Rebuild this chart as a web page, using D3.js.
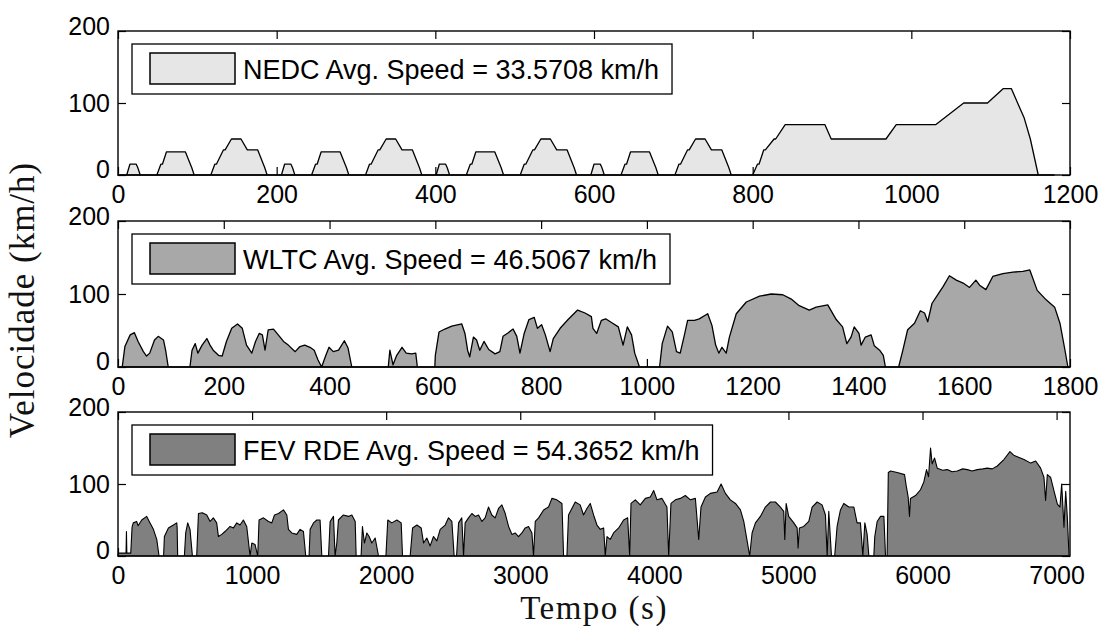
<!DOCTYPE html>
<html><head><meta charset="utf-8">
<script src="https://cdn.jsdelivr.net/npm/d3@7"></script>
<style>body{margin:0;background:#fff}svg{display:block}</style>
</head><body>
<svg id="c" width="1102" height="628"></svg>
<script>
// ---------- DATA ----------
const cycleNames = ["NEDC", "WLTC", "FEV RDE"];
const avgSpeeds = ["33.5708", "46.5067", "54.3652"];
const xMax = [1200, 1800, 7100];
const xTicks = [
  [0, 200, 400, 600, 800, 1000, 1200],
  [0, 200, 400, 600, 800, 1000, 1200, 1400, 1600, 1800],
  [0, 1000, 2000, 3000, 4000, 5000, 6000, 7000]
];
const yTicks = [0, 100, 200];

// [time s, speed km/h]
const nedc = [
  [0,0],[11,0],[15,15],[23,15],[25,10],[28,0],[49,0],[54,15],[56,15],[61,32],[85,32],[93,10],[96,0],
  [117,0],[122,15],[124,15],[133,35],[135,35],[143,50],[155,50],[163,35],[176,35],[185,10],[188,0],[195,0],
  [206,0],[210,15],[218,15],[220,10],[223,0],[244,0],[249,15],[251,15],[256,32],[280,32],[288,10],[291,0],
  [312,0],[317,15],[319,15],[328,35],[330,35],[338,50],[350,50],[358,35],[371,35],[380,10],[383,0],[390,0],
  [401,0],[405,15],[413,15],[415,10],[418,0],[439,0],[444,15],[446,15],[451,32],[475,32],[483,10],[486,0],
  [507,0],[512,15],[514,15],[523,35],[525,35],[533,50],[545,50],[553,35],[566,35],[575,10],[578,0],[585,0],
  [596,0],[600,15],[608,15],[610,10],[613,0],[634,0],[639,15],[641,15],[646,32],[670,32],[678,10],[681,0],
  [702,0],[707,15],[709,15],[718,35],[720,35],[728,50],[740,50],[748,35],[761,35],[770,10],[773,0],[780,0],
  [800,0],[806,15],[808,15],[814,35],[816,35],[827,50],[829,50],[841,70],[891,70],[899,50],[968,50],
  [981,70],[1031,70],[1066,100],[1096,100],[1116,120],[1126,120],[1142,80],[1150,50],[1160,0],[1180,0]
];

const wltc = [
  [0,0],[8,0],[13,28],[23,44],[31,47],[38,35],[48,21],[54,15],[60,19],[69,37],[76,42],[86,37],[90,23],[95,0],
  [136,0],[140,23],[146,32],[151,19],[159,30],[168,39],[174,30],[180,23],[190,16],[197,15],[205,35],[215,53],
  [226,59],[235,53],[243,30],[253,19],[260,35],[267,46],[273,44],[278,23],[284,51],[294,52],[303,44],[313,35],
  [322,30],[335,21],[344,28],[353,30],[363,27],[371,23],[378,10],[385,0],[393,16],[399,27],[407,21],[417,23],
  [428,36],[435,26],[442,0],[511,0],[514,23],[520,3],[527,16],[537,27],[545,19],[555,18],[563,19],[566,0],
  [599,0],[600,16],[607,48],[618,52],[631,56],[650,59],[656,46],[661,23],[665,14],[672,41],[678,37],[684,23],
  [692,35],[701,24],[713,18],[722,21],[728,42],[738,47],[747,52],[754,42],[760,19],[768,46],[777,65],[787,68],
  [793,53],[801,58],[808,44],[817,21],[823,39],[836,53],[851,65],[869,78],[883,74],[895,69],[898,53],[905,46],
  [914,64],[922,66],[933,61],[946,55],[955,30],[963,55],[971,44],[977,19],[986,0],[1024,0],[1029,32],[1039,56],
  [1048,48],[1056,21],[1063,19],[1071,44],[1077,64],[1090,64],[1099,66],[1115,73],[1123,57],[1130,30],[1136,19],
  [1142,27],[1150,19],[1156,41],[1169,73],[1188,89],[1213,97],[1235,100],[1257,99],[1273,93],[1288,84],[1307,78],
  [1320,82],[1342,85],[1358,65],[1370,55],[1378,32],[1386,41],[1392,55],[1401,46],[1405,30],[1413,41],[1424,44],
  [1430,29],[1440,23],[1447,16],[1451,0],[1476,0],[1484,23],[1493,51],[1506,60],[1517,77],[1525,74],[1531,62],
  [1539,87],[1550,99],[1560,110],[1572,125],[1585,119],[1598,115],[1610,109],[1622,119],[1629,112],[1641,106],
  [1654,124],[1673,128],[1692,130],[1711,131],[1724,133],[1738,105],[1755,92],[1771,82],[1781,60],[1790,25],
  [1796,0],[1800,0]
];

const rde = [
  [0,0],[3,4],[60,4],[63,34],[66,4],[95,4],[105,40],[114,46],[139,48],[150,42],[177,50],[214,55],[239,46],
  [264,37],[289,23],[306,0],[340,0],[346,27],[376,39],[413,43],[438,46],[441,40],[445,0],[495,0],[505,32],
  [520,46],[537,37],[555,0],[587,0],[600,59],[629,60],[662,57],[687,48],[711,53],[736,46],[749,27],[774,30],
  [798,34],[836,41],[861,39],[886,46],[910,43],[935,50],[960,41],[985,0],[998,18],[1022,16],[1042,0],[1052,50],
  [1085,53],[1122,48],[1147,46],[1167,57],[1197,59],[1234,64],[1259,57],[1271,37],[1296,32],[1333,30],[1358,37],
  [1383,34],[1400,0],[1425,0],[1433,37],[1458,46],[1483,50],[1507,50],[1520,0],[1570,0],[1582,48],[1607,55],
  [1619,0],[1632,18],[1644,50],[1681,57],[1719,55],[1744,57],[1769,48],[1776,0],[1813,0],[1823,41],[1838,18],
  [1856,32],[1873,27],[1893,18],[1918,25],[1943,0],[1998,0],[2012,50],[2042,46],[2080,50],[2112,46],[2122,0],
  [2179,0],[2197,39],[2229,43],[2261,39],[2279,18],[2303,25],[2328,14],[2353,27],[2378,21],[2403,37],[2440,43],
  [2465,53],[2490,48],[2507,0],[2525,0],[2540,46],[2564,53],[2577,0],[2589,46],[2614,53],[2639,59],[2664,55],
  [2689,57],[2714,48],[2738,53],[2763,68],[2788,57],[2813,53],[2838,66],[2863,71],[2888,59],[2913,41],[2938,30],
  [2962,32],[2987,27],[3012,32],[3037,39],[3062,41],[3087,32],[3099,0],[3112,48],[3137,53],[3174,64],[3211,68],
  [3236,80],[3273,78],[3311,73],[3323,0],[3348,0],[3360,57],[3385,66],[3410,75],[3447,71],[3472,57],[3497,66],
  [3522,73],[3547,57],[3572,43],[3597,37],[3622,39],[3634,0],[3647,27],[3671,23],[3696,32],[3734,39],[3771,50],
  [3801,53],[3816,0],[3826,73],[3858,78],[3895,71],[3933,80],[3970,82],[3995,91],[4020,78],[4057,80],[4094,68],
  [4107,0],[4124,73],[4157,78],[4194,80],[4231,84],[4269,78],[4306,80],[4331,23],[4348,68],[4381,82],[4418,87],
  [4468,89],[4498,100],[4530,87],[4567,78],[4605,73],[4642,64],[4667,48],[4692,21],[4711,0],[4729,32],[4754,46],
  [4791,55],[4828,68],[4866,75],[4903,75],[4940,68],[4965,62],[4973,23],[4983,73],[5002,55],[5040,46],[5065,39],
  [5072,11],[5082,39],[5114,41],[5152,48],[5177,68],[5214,75],[5251,71],[5276,57],[5289,0],[5301,62],[5321,0],
  [5345,0],[5363,41],[5388,64],[5413,73],[5450,68],[5488,68],[5512,46],[5537,46],[5555,0],[5570,46],[5587,30],
  [5600,0],[5637,0],[5644,27],[5662,48],[5687,55],[5712,55],[5724,0],[5736,0],[5745,116],[5762,118],[5811,116],
  [5866,113],[5878,98],[5893,82],[5903,55],[5910,80],[5948,84],[5985,92],[6010,103],[6030,120],[6045,110],
  [6060,150],[6072,128],[6090,136],[6110,122],[6150,119],[6185,120],[6220,117],[6259,118],[6300,121],[6334,120],
  [6370,118],[6408,120],[6450,121],[6483,122],[6520,121],[6558,125],[6607,134],[6652,145],[6680,140],[6707,138],
  [6757,134],[6807,129],[6844,132],[6881,122],[6906,109],[6918,77],[6931,113],[6956,109],[6981,90],[7006,72],
  [7025,68],[7038,100],[7055,40],[7068,90],[7080,54],[7093,0]
];

// ---------- DRAW ----------
const series = [nedc, wltc, rde];
const fills = ["#e6e6e6", "#a8a8a8", "#808080"];
const svg = d3.select("#c");
const left = 118, right = 1070;
const tops = [31, 221, 412], bottoms = [175, 367, 556];
const tickFont = "'Liberation Sans', Arial, Helvetica, sans-serif";
const serif = "'Liberation Serif', 'Times New Roman', serif";

series.forEach((data, i) => {
  const x = d3.scaleLinear().domain([0, xMax[i]]).range([left, right]);
  const y = d3.scaleLinear().domain([0, 200]).range([bottoms[i], tops[i]]);
  const g = svg.append("g");

  const styleAxis = sel => {
    sel.select(".domain").remove();
    sel.selectAll(".tick line").attr("stroke", "#000").attr("stroke-width", 1.2);
    sel.selectAll("text").attr("fill", "#000").style("font-family", tickFont).style("font-size", "25px");
  };

  g.append("g").attr("transform", `translate(0,${bottoms[i]})`)
    .call(d3.axisBottom(x).tickValues(xTicks[i]).tickSizeInner(-8).tickSizeOuter(0).tickPadding(10).tickFormat(d3.format("d")))
    .call(styleAxis);
  g.append("g").attr("transform", `translate(0,${tops[i]})`)
    .call(d3.axisTop(x).tickValues(xTicks[i]).tickSizeInner(-8).tickSizeOuter(0).tickFormat(""))
    .call(styleAxis);
  g.append("g").attr("transform", `translate(${left},0)`)
    .call(d3.axisLeft(y).tickValues(yTicks).tickSizeInner(-8).tickSizeOuter(0).tickPadding(8).tickFormat(d3.format("d")))
    .call(styleAxis)
    .selectAll("text").attr("dy", d => d === 0 ? "0.1em" : d === 200 ? "0.15em" : "0.32em");
  g.append("g").attr("transform", `translate(${right},0)`)
    .call(d3.axisRight(y).tickValues(yTicks).tickSizeInner(-8).tickSizeOuter(0).tickFormat(""))
    .call(styleAxis);

  const area = d3.area().x(d => x(d[0])).y0(y(0)).y1(d => y(d[1]));
  g.append("path").datum(data).attr("d", area)
    .attr("fill", fills[i]).attr("stroke", "#000").attr("stroke-width", i === 2 ? 1.1 : 1.3)
    .attr("stroke-linejoin", "round");

  g.append("rect").attr("x", left).attr("y", tops[i]).attr("width", right - left).attr("height", bottoms[i] - tops[i])
    .attr("fill", "none").attr("stroke", "#000").attr("stroke-width", 1.4);

  // legend
  const lg = g.append("g");
  const boxX = left + 14, boxY = tops[i] + 13, boxH = 50;
  const box = lg.append("rect").attr("x", boxX).attr("y", boxY).attr("height", boxH)
    .attr("fill", "#fff").attr("stroke", "#000").attr("stroke-width", 1.3);
  lg.append("rect").attr("x", boxX + 18).attr("y", boxY + 9).attr("width", 85).attr("height", 31)
    .attr("fill", fills[i]).attr("stroke", "#000").attr("stroke-width", 1.5);
  const t = lg.append("text").attr("x", boxX + 111).attr("y", boxY + 35)
    .style("font-family", tickFont).style("font-size", "27px").attr("fill", "#000")
    .text(`${cycleNames[i]} Avg. Speed = ${avgSpeeds[i]} km/h`);
  const w = t.node().getComputedTextLength();
  box.attr("width", 111 + w + 13);
});

svg.append("text").attr("x", 594).attr("y", 619).attr("text-anchor", "middle")
  .style("font-family", serif).style("font-size", "33px").style("letter-spacing", "1.5px")
  .attr("fill", "#111").text("Tempo (s)");
svg.append("text").attr("transform", "translate(34,300) rotate(-90)").attr("text-anchor", "middle")
  .style("font-family", serif).style("font-size", "35px").style("letter-spacing", "1px")
  .attr("fill", "#111").text("Velocidade (km/h)");
</script>
</body></html>
